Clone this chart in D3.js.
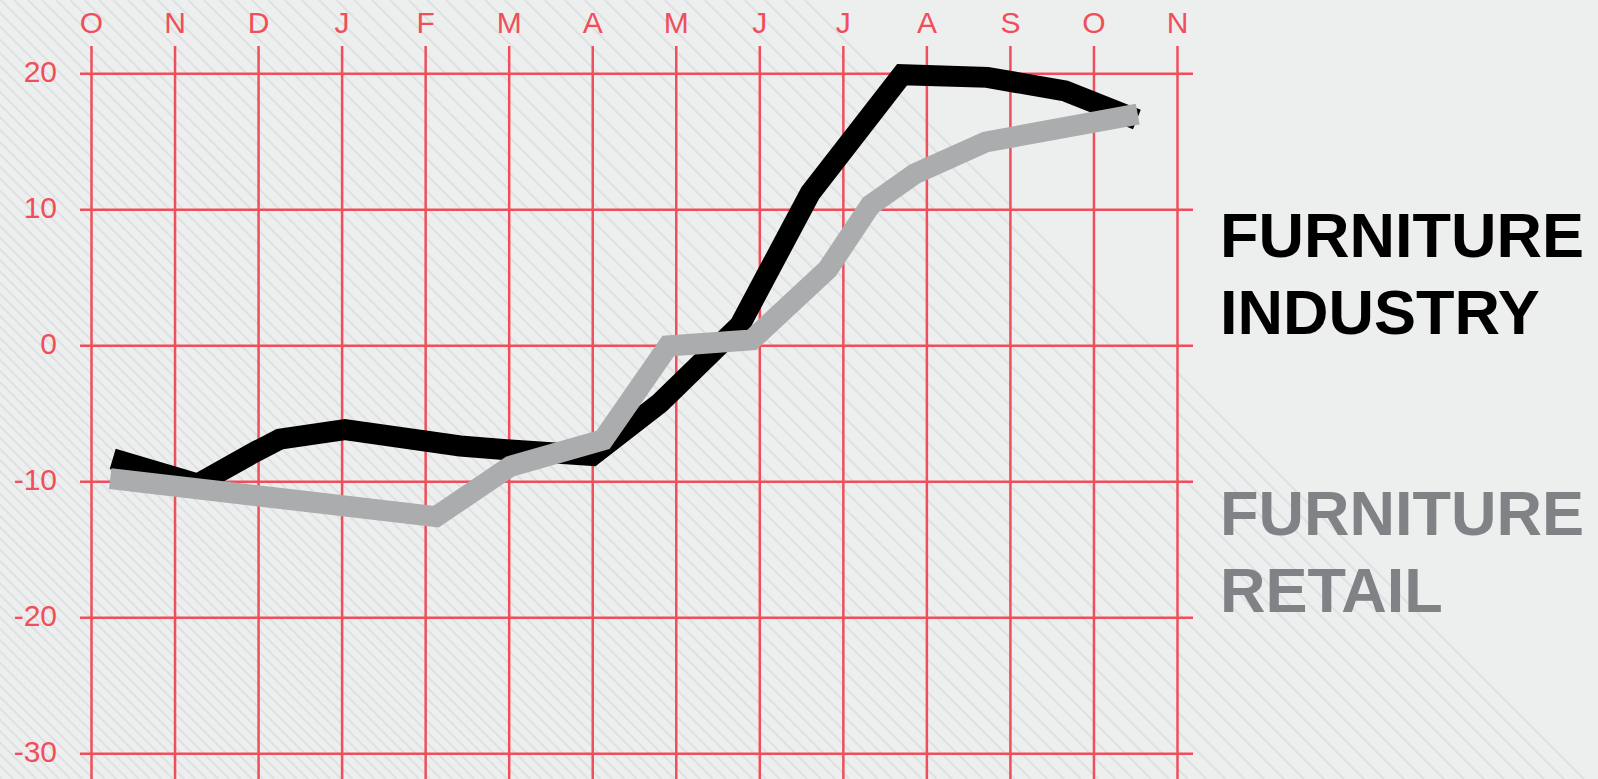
<!DOCTYPE html>
<html>
<head>
<meta charset="utf-8">
<script src="https://cdn.jsdelivr.net/npm/d3@7"></script>
<style>
  html, body { margin: 0; padding: 0; background: #edeeee; overflow: hidden; }
  svg { display: block; }
</style>
</head>
<body>
<svg id="chart" width="1598" height="779"></svg>
<script>
// Month ticks along the top (October through November of the following year)
const months = ["O", "N", "D", "J", "F", "M", "A", "M", "J", "J", "A", "S", "O", "N"];
const yTicks = [20, 10, 0, -10, -20, -30];

// Positions are in months from the first tick; values are balance readings
const industryPos = [0.26, 1.28, 1.96, 2.26, 3.04, 4.42, 5.02, 6.00, 6.81, 7.77, 8.61, 9.71, 10.73, 11.66, 12.52];
const industryVal = [-8.35, -10.2, -7.85, -6.9, -6.2, -7.4, -7.7, -8.1, -4.25, 1.5, 11.2, 19.9, 19.7, 18.7, 16.6];

const retailPos = [0.23, 4.13, 5.02, 6.13, 6.91, 7.91, 8.82, 9.33, 9.86, 10.71, 12.53];
const retailVal = [-9.8, -12.6, -8.9, -6.95, -0.05, 0.4, 5.6, 10.3, 12.6, 14.95, 17.0];

const legendIndustry = ["FURNITURE", "INDUSTRY"];
const legendRetail = ["FURNITURE", "RETAIL"];

const W = 1598, H = 779;
const svg = d3.select("#chart");
const red = "#f04e5a";

// Background
svg.append("rect").attr("width", W).attr("height", H).attr("fill", "#edeeee");

// Diagonal hatching, widening towards the upper right and stopping short of the legend corner
const hatch = svg.append("g").attr("stroke", "#dfe0e2").attr("stroke-width", 2);
const spacing = d3.scaleLinear().domain([-800, -300, 150, 500]).range([11.5, 11, 15, 20]).clamp(true);
for (let c = -800; c < 810; c += spacing(c)) {
  hatch.append("line")
    .attr("x1", c).attr("y1", 0)
    .attr("x2", c + H).attr("y2", H);
}

// Scales
const x = d3.scaleLinear().domain([0, months.length - 1]).range([91, 1177]);
const y = d3.scaleLinear().domain([-30, 20]).range([753.3, 73.3]);

const font = "'Liberation Sans', Arial, sans-serif";

// Vertical grid with month labels on top
const xAxis = d3.axisTop(x)
  .tickValues(d3.range(months.length))
  .tickFormat(i => months[i])
  .tickSize(-(H - 46))
  .tickPadding(13);

const gx = svg.append("g").attr("transform", "translate(0,46)").call(xAxis);
gx.select(".domain").remove();
gx.selectAll(".tick line").attr("stroke", red).attr("stroke-width", 2.5);
gx.selectAll(".tick text")
  .attr("fill", red)
  .attr("font-family", font)
  .attr("font-size", 30);

// Horizontal grid with value labels on the left
const yAxis = d3.axisLeft(y)
  .tickValues(yTicks)
  .tickFormat(d3.format("d"))
  .tickSize(-(1193 - 80))
  .tickPadding(23);

const gy = svg.append("g").attr("transform", "translate(80,0)").call(yAxis);
gy.select(".domain").remove();
gy.selectAll(".tick line").attr("stroke", red).attr("stroke-width", 2.5);
gy.selectAll(".tick text")
  .attr("fill", red)
  .attr("font-family", font)
  .attr("font-size", 30)
  .attr("dy", "0.26em")
  .text(d => String(d).replace("\u2212", "-"));

// Series lines
const line = d3.line().x(d => x(d[0])).y(d => y(d[1]));

const industry = d3.zip(industryPos, industryVal);
const retail = d3.zip(retailPos, retailVal);

svg.append("path")
  .datum(industry)
  .attr("d", line)
  .attr("fill", "none")
  .attr("stroke", "#000000")
  .attr("stroke-width", 21)
  .attr("stroke-linejoin", "miter")
  .attr("stroke-linecap", "butt");

svg.append("path")
  .datum(retail)
  .attr("d", line)
  .attr("fill", "none")
  .attr("stroke", "#abacae")
  .attr("stroke-width", 21)
  .attr("stroke-linejoin", "miter")
  .attr("stroke-linecap", "butt");

// Legend labels
function legend(lines, top, color) {
  const t = svg.append("text")
    .attr("x", 1220)
    .attr("y", top)
    .attr("fill", color)
    .attr("font-family", font)
    .attr("font-weight", "bold")
    .attr("font-size", 63);
  lines.forEach((s, i) => {
    t.append("tspan").attr("x", 1220).attr("y", top + i * 77).text(s);
  });
}
legend(legendIndustry, 257, "#000000");
legend(legendRetail, 535, "#818286");
</script>
</body>
</html>
